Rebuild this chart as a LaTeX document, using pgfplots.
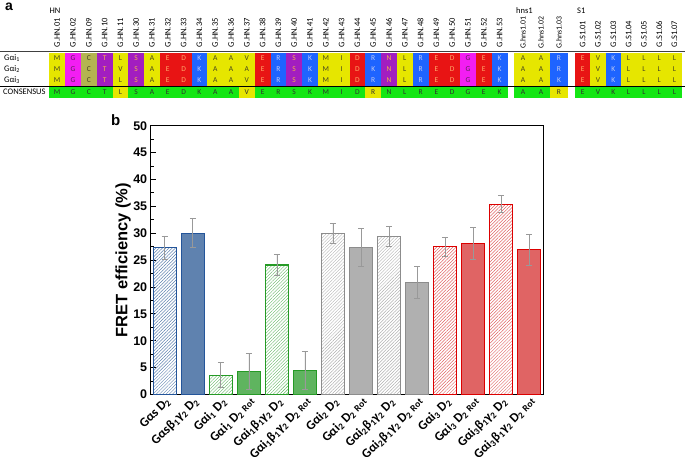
\documentclass[border=0pt]{standalone}
\usepackage{fontspec}
\setmainfont{Liberation Sans}
\newfontfamily\carl{Carlito}
\usepackage{pgfplots}
\pgfplotsset{compat=1.18}
\usetikzlibrary{patterns.meta}

% residue colours (background / letter)
\definecolor{aaYel}{HTML}{E6E600}
\definecolor{aaMag}{HTML}{F21EF2}
\definecolor{aaOli}{HTML}{B4B450}
\definecolor{aaPur}{HTML}{A21EC0}
\definecolor{aaRed}{HTML}{E81414}
\definecolor{aaBlu}{HTML}{1E64FF}
\definecolor{consG}{HTML}{14E614}
\colorlet{consY}{aaYel}
\definecolor{consfg}{HTML}{303030}
\newcommand\defaa[3]{\colorlet{bg#1}{#2}\colorlet{fg#1}{#3}}
\definecolor{fgdark}{HTML}{454520}
\definecolor{fgorg}{HTML}{F5B048}
\definecolor{fgred}{HTML}{FFA868}
\definecolor{fgblu}{HTML}{C4CCF0}
\definecolor{fgmag}{HTML}{5A205A}
\defaa{M}{aaYel}{fgdark}\defaa{L}{aaYel}{fgdark}\defaa{A}{aaYel}{fgdark}
\defaa{V}{aaYel}{fgdark}\defaa{I}{aaYel}{fgdark}
\defaa{G}{aaMag}{fgmag}\defaa{C}{aaOli}{fgdark}
\defaa{T}{aaPur}{fgorg}\defaa{S}{aaPur}{fgorg}\defaa{N}{aaPur}{fgorg}
\defaa{E}{aaRed}{fgred}\defaa{D}{aaRed}{fgred}
\defaa{K}{aaBlu}{fgblu}\defaa{R}{aaBlu}{fgblu}

% bar colours
\definecolor{bluF}{HTML}{5F82AF}\definecolor{bluD}{HTML}{24559A}
\definecolor{grnF}{HTML}{5FB45F}\definecolor{grnD}{HTML}{259A25}
\definecolor{gryF}{HTML}{B0B0B0}\definecolor{gryD}{HTML}{8C8C8C}
\definecolor{redF}{HTML}{E06464}\definecolor{redD}{HTML}{DC0000}

\newcommand\cellfont{\carl\fontsize{7.5}{7.5}\selectfont}
\newcommand\aacell[6]{%
  \fill[fill=#5] (#1,#3) rectangle ++(#2,11);
  \node[text=#6,font=\cellfont,inner sep=0] at (#1+#2/2,#3+5.5) {#4};}
\newcommand\aarow[4]{\foreach \a [count=\i from 0] in {#4}{%
  \pgfmathsetmacro\xl{#1+#2*\i}\aacell{\xl}{#2}{#3}{\a}{bg\a}{fg\a}}}
\newcommand\consrow[4]{\foreach \a/\c [count=\i from 0] in {#4}{%
  \pgfmathsetmacro\xl{#1+#2*\i}\aacell{\xl}{#2}{#3}{\a}{cons\c}{consfg}}}

\newcommand\Ds{D\textsubscript{2}}
\newcommand\bgam{β\textsubscript{1}γ\textsubscript{2}}
\newcommand\Rot{{\fontsize{9.5}{9.5}\selectfont Rot}}

\begin{document}
\begin{tikzpicture}
\path[use as bounding box] (0,0) rectangle (685pt,-456pt);

% ---------- panel a: alignment ----------
\begin{scope}[x=1pt,y=-1pt]
  \node[font=\bfseries\fontsize{14}{14}\selectfont,anchor=base west,inner sep=0] at (5,10) {a};
  \tikzset{grp/.style={font=\carl\fontsize{8.5}{8.5}\selectfont,anchor=west,inner sep=0},
           lab/.style={font=\carl\fontsize{8.5}{8.5}\selectfont,rotate=90,anchor=west,inner sep=0}}
  \node[grp] at (49.5,10.5) {HN};
  \node[grp] at (516,10.5) {hns1};
  \node[grp] at (577,10.5) {S1};
  \foreach \n [count=\i from 0] in {01,02,09,10,11,30,31,32,33,34,35,36,37,38,39,40,41,42,43,44,45,46,47,48,49,50,51,52,53}
    \node[lab] at (57.2+15.8*\i,47.5) {G.HN.\n};
  \foreach \n [count=\i from 0] in {01,02,03}
    \node[lab,font=\carl\fontsize{7.8}{7.8}\selectfont] at (523+18*\i,49) {G.hns1.\n};
  \foreach \n [count=\i from 0] in {01,02,03,04,05,06,07}
    \node[lab] at (582.7+15.3*\i,47.5) {G.S1.\n};

  \draw[black!75,line width=0.8pt] (0,51.8) -- (685,51.8);
  \draw[black,line width=0.8pt] (0,86) -- (685,86);

  \tikzset{rowlab/.style={font=\carl\fontsize{8.5}{8.5}\selectfont,anchor=west,inner sep=0}}
  \node[rowlab] at (4,58) {Gαi\textsubscript{1}};
  \node[rowlab] at (4,69) {Gαi\textsubscript{2}};
  \node[rowlab] at (4,80) {Gαi\textsubscript{3}};
  \node[rowlab] at (3,92) {CONSENSUS};

  % Gai1
  \aarow{49.3}{15.8}{52.5}{M,G,C,T,L,S,A,E,D,K,A,A,V,E,R,S,K,M,I,D,R,N,L,R,E,D,G,E,K}
  \aarow{514}{18}{52.5}{A,A,R}
  \aarow{575}{15.3}{52.5}{E,V,K,L,L,L,L}
  % Gai2
  \aarow{49.3}{15.8}{63.5}{M,G,C,T,V,S,A,E,D,K,A,A,A,E,R,S,K,M,I,D,K,N,L,R,E,D,G,E,K}
  \aarow{514}{18}{63.5}{A,A,R}
  \aarow{575}{15.3}{63.5}{E,V,K,L,L,L,L}
  % Gai3
  \aarow{49.3}{15.8}{74.5}{M,G,C,T,L,S,A,E,D,K,A,A,V,E,R,S,K,M,I,D,R,N,L,R,E,D,G,E,K}
  \aarow{514}{18}{74.5}{A,A,K}
  \aarow{575}{15.3}{74.5}{E,V,K,L,L,L,L}
  % consensus
  \consrow{49.3}{15.8}{86.8}{M/G,G/G,C/G,T/G,L/Y,S/G,A/G,E/G,D/G,K/G,A/G,A/G,V/Y,E/G,R/G,S/G,K/G,M/G,I/G,D/G,R/Y,N/G,L/G,R/G,E/G,D/G,G/G,E/G,K/G}
  \consrow{514}{18}{86.8}{A/G,A/G,R/Y}
  \consrow{575}{15.3}{86.8}{E/G,V/G,K/G,L/G,L/G,L/G,L/G}
\end{scope}

% ---------- panel b: FRET efficiency ----------
\node[font=\bfseries\fontsize{15}{15}\selectfont,anchor=base west,inner sep=0] at (111pt,-125pt) {b};

\begin{axis}[
  at={(150.7pt,-394.5pt)}, anchor=south west,
  width=392.6pt, height=268.8pt, scale only axis,
  xmin=-0.5, xmax=13.5, ymin=0, ymax=50,
  ybar, bar width=0.82, bar shift=0pt,
  ytick={0,5,...,50}, minor y tick num=1,
  ytick pos=left, tick align=inside,
  major tick length=5pt, minor tick length=3pt,
  ytick style={black, line width=0.9pt},
  xtick={0,...,13}, xtick style={draw=none},
  axis line style={black, line width=1.1pt},
  /pgf/number format/assume math mode=true,
  yticklabel style={font=\bfseries\fontsize{12.5}{12.5}\selectfont},
  ylabel={FRET efficiency (\%)},
  ylabel style={font=\bfseries\fontsize{16.5}{16.5}\selectfont, at={(axis description cs:-0.05,0.5)},
    anchor=south, rotate=0, inner sep=0},
  xticklabel style={font=\carl\bfseries\fontsize{13}{13}\selectfont, rotate=45, anchor=north east, inner sep=1pt},
  xticklabels={
    {Gαs \Ds},
    {Gαs\bgam{} \Ds},
    {Gαi\textsubscript{1} \Ds},
    {Gαi\textsubscript{1} \Ds{} \Rot},
    {Gαi\textsubscript{1}\bgam{} \Ds},
    {Gαi\textsubscript{1}\bgam{} \Ds{} \Rot},
    {Gαi\textsubscript{2} \Ds},
    {Gαi\textsubscript{2} \Ds{} \Rot},
    {Gαi\textsubscript{2}\bgam{} \Ds},
    {Gαi\textsubscript{2}\bgam{} \Ds{} \Rot},
    {Gαi\textsubscript{3} \Ds},
    {Gαi\textsubscript{3} \Ds{} \Rot},
    {Gαi\textsubscript{3}\bgam{} \Ds},
    {Gαi\textsubscript{3}\bgam{} \Ds{} \Rot}},
  hatch/.style 2 args={draw=#1, line width=1.2pt,
    pattern={Lines[angle=45,distance=2.3pt,line width=0.45pt]}, pattern color=#2},
  solidbar/.style 2 args={draw=#1, line width=1.2pt, fill=#2},
  error bars/y dir=both, error bars/y explicit,
  error bars/error bar style={black!40, line width=0.7pt},
  error bars/error mark options={rotate=90, black!40, mark size=3pt, line width=0.7pt},
]
% G alpha s
\addplot[hatch={bluD}{bluF}] coordinates {(0,27.3) +- (0,2.2)};
\addplot[solidbar={bluD}{bluF}] coordinates {(1,30.0) +- (0,2.7)};
% G alpha i1
\addplot[hatch={grnD}{grnF}] coordinates {(2,3.6) +- (0,2.3) (4,24.1) +- (0,1.9)};
\addplot[solidbar={grnD}{grnF}] coordinates {(3,4.3) +- (0,3.3) (5,4.5) +- (0,3.5)};
% G alpha i2
\addplot[hatch={gryD}{gryF}] coordinates {(6,29.9) +- (0,1.85) (8,29.45) +- (0,1.8)};
\addplot[solidbar={gryD}{gryF}] coordinates {(7,27.35) +- (0,3.5) (9,20.9) +- (0,3.0)};
% G alpha i3
\addplot[hatch={redD}{redF}] coordinates {(10,27.5) +- (0,1.8) (12,35.4) +- (0,1.6)};
\addplot[solidbar={redD}{redF}] coordinates {(11,28.1) +- (0,3.0) (13,26.9) +- (0,2.8)};
\end{axis}
\end{tikzpicture}
\end{document}
